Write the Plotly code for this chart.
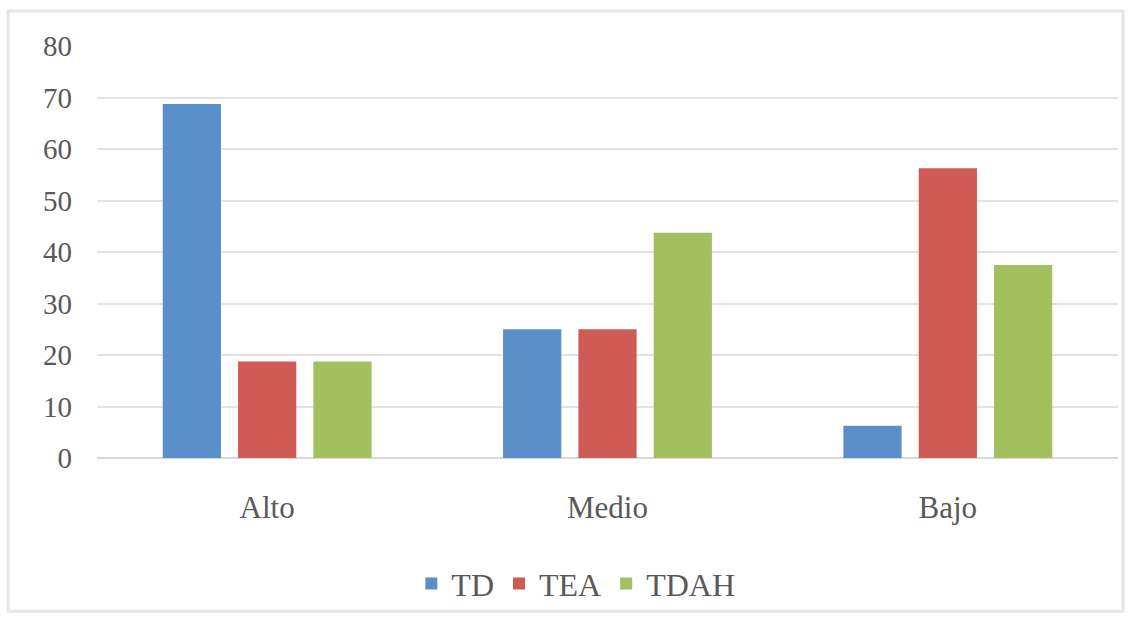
import plotly.graph_objects as go

categories = ["Alto", "Medio", "Bajo"]
series_names = ["TD", "TEA", "TDAH"]
td_values = [68.75, 25, 6.25]
tea_values = [18.75, 25, 56.25]
tdah_values = [18.75, 43.75, 37.5]
colors = ["#5B8FC9", "#CF5B56", "#A3C05E"]
y_ticks = [0, 10, 20, 30, 40, 50, 60, 70, 80]

fig = go.Figure()
for name, vals, col in zip(series_names, [td_values, tea_values, tdah_values], colors):
    fig.add_trace(go.Bar(x=categories, y=vals, name=name, marker_color=col,
                         marker_line_width=0))

FF = "Times New Roman, Liberation Serif, serif"
TC = "#595959"
fig.update_layout(
    width=1133, height=617,
    margin=dict(l=97, r=15, t=46, b=159, autoexpand=False),
    paper_bgcolor="white", plot_bgcolor="white",
    barmode="group", bargap=0.336, bargroupgap=0.227,
    font=dict(family=FF, size=28, color=TC),
    showlegend=True,
    legend=dict(orientation="h", x=0.469, xanchor="center", y=-0.305, yanchor="middle",
                font=dict(family=FF, size=32, color=TC), traceorder="normal",
                itemwidth=30, bgcolor="rgba(0,0,0,0)"),
    xaxis=dict(showgrid=False, showline=False, ticks="", ticklabelstandoff=28,
               tickfont=dict(family=FF, size=31, color=TC)),
    yaxis=dict(range=[0, 80], tickvals=y_ticks, showgrid=True, gridcolor="#E3E3E3",
               gridwidth=2, zeroline=True, zerolinecolor="#D9D9D9", zerolinewidth=2,
               showline=False, ticks="", ticklabelstandoff=24,
               tickfont=dict(family=FF, size=29, color=TC)),
    shapes=[dict(type="rect", xref="paper", yref="paper",
                 x0=-0.087, x1=1.005, y0=-0.372, y1=1.085,
                 line=dict(color="#E6E6E6", width=3), fillcolor="rgba(0,0,0,0)", layer="below")],
)

fig.write_html("out.html")
